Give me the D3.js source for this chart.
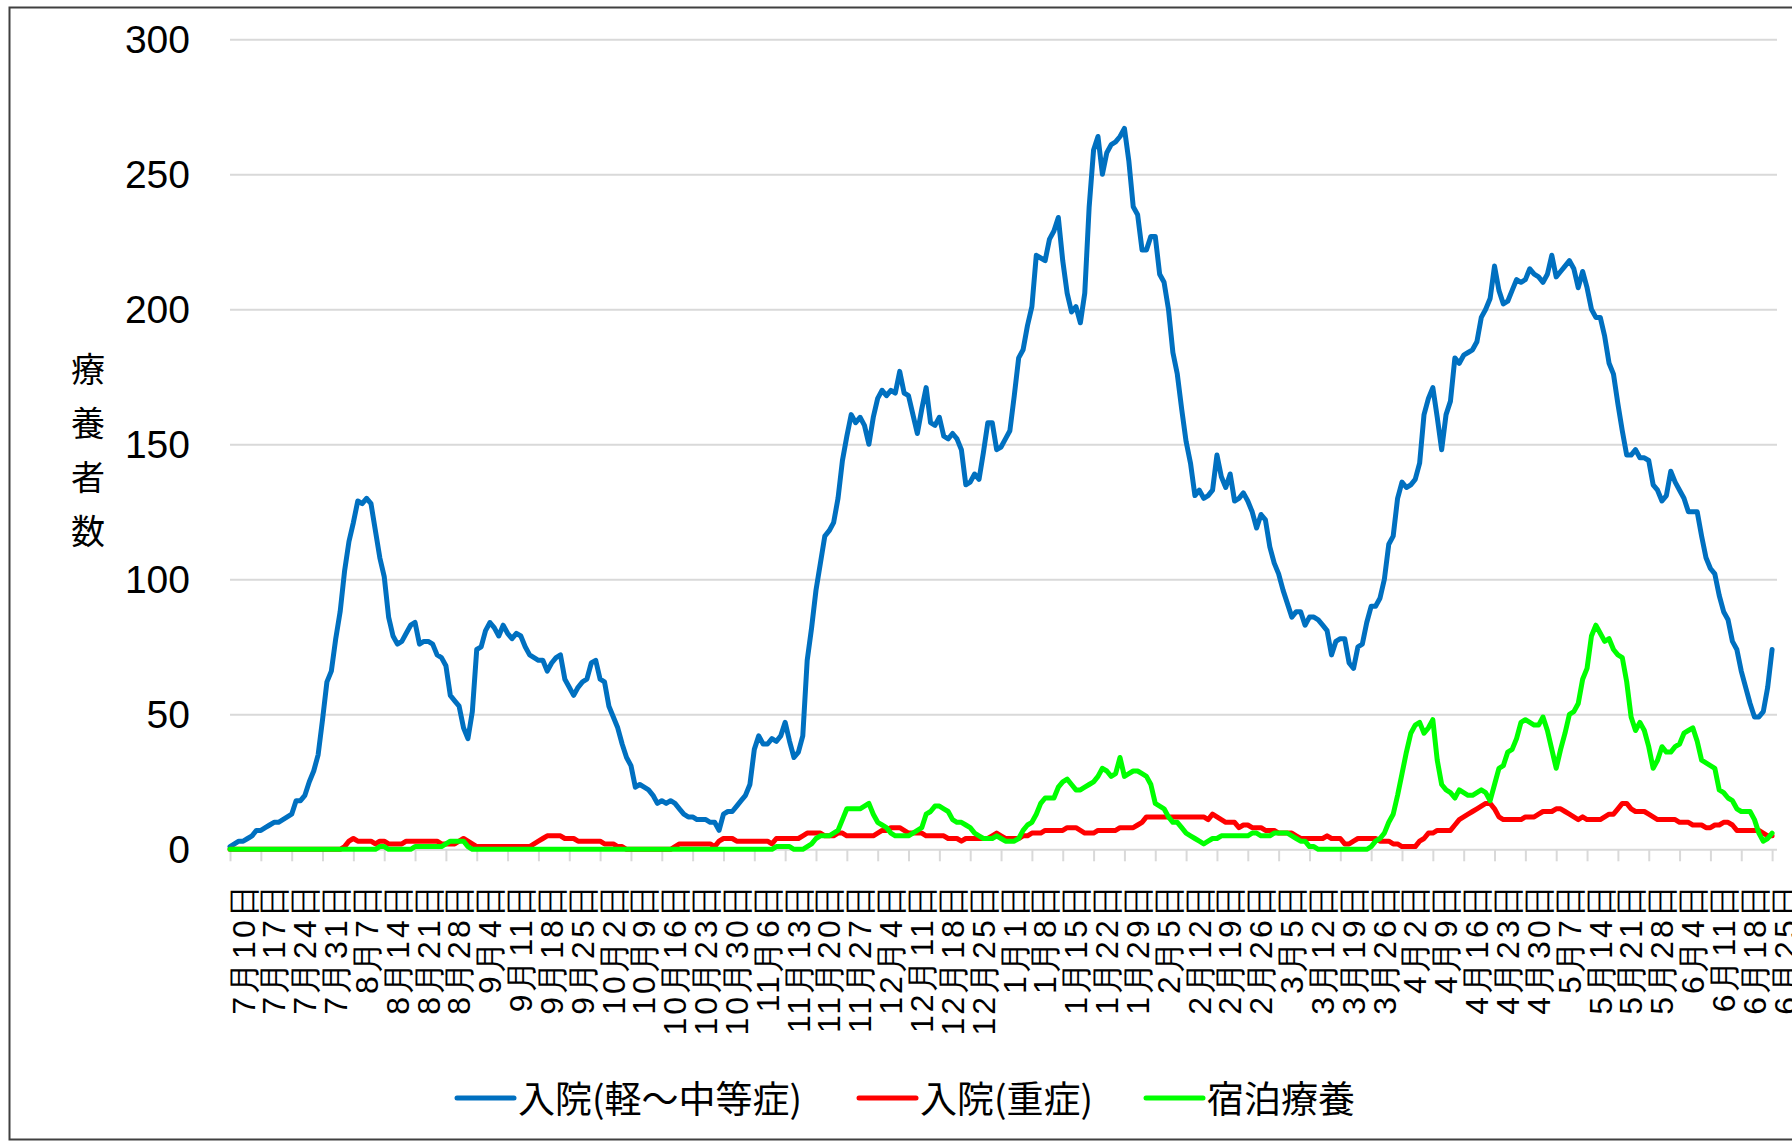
<!DOCTYPE html>
<html>
<head>
<meta charset="utf-8">
<script src="https://cdn.jsdelivr.net/npm/d3@7"></script>
<style>
  body { margin: 0; background: #fff; }
  svg { display: block; font-family: "DejaVu Sans", "Noto Sans CJK JP", sans-serif; }
</style>
</head>
<body>
<svg width="1792" height="1142"></svg>
<script>
// weekly tick labels (every 7th day starting 7/10)
var tickLabels = ["7月10日", "7月17日", "7月24日", "7月31日", "8月7日", "8月14日", "8月21日", "8月28日",
  "9月4日", "9月11日", "9月18日", "9月25日", "10月2日", "10月9日", "10月16日", "10月23日", "10月30日",
  "11月6日", "11月13日", "11月20日", "11月27日", "12月4日", "12月11日", "12月18日", "12月25日",
  "1月1日", "1月8日", "1月15日", "1月22日", "1月29日", "2月5日", "2月12日", "2月19日", "2月26日",
  "3月5日", "3月12日", "3月19日", "3月26日", "4月2日", "4月9日", "4月16日", "4月23日", "4月30日",
  "5月7日", "5月14日", "5月21日", "5月28日", "6月4日", "6月11日", "6月18日", "6月25日"];

var seriesNames = ["入院(軽～中等症)", "入院(重症)", "宿泊療養"];
var yTicks = [0, 50, 100, 150, 200, 250, 300];

// 入院(軽～中等症), one value per day
var mild = [
  1,2,3,3,4,5,7,7,8,9,
  10,10,11,12,13,18,18,20,25,29,
  35,48,62,66,78,88,103,114,121,129,
  128,130,128,118,108,101,86,79,76,77,
  80,83,84,76,77,77,76,72,71,68,
  57,55,53,45,41,51,74,75,81,84,
  82,79,83,80,78,80,79,75,72,71,
  70,70,66,69,71,72,63,60,57,60,
  62,63,69,70,63,62,53,49,45,39,
  34,31,23,24,23,22,20,17,18,17,
  18,17,15,13,12,12,11,11,11,10,
  10,7,13,14,14,16,18,20,24,37,
  42,39,39,41,40,42,47,40,34,36,
  42,70,82,96,106,116,118,121,130,144,
  153,161,158,160,157,150,160,167,170,168,
  170,169,177,169,168,161,154,163,171,158,
  157,160,153,152,154,152,148,135,136,139,
  137,147,158,158,148,149,152,155,168,182,
  185,194,201,220,219,218,226,229,234,218,
  206,199,201,195,206,238,259,264,250,258,
  261,262,264,267,255,238,235,222,222,227,
  227,213,210,200,184,176,163,151,143,131,
  133,130,131,133,146,138,134,139,129,130,
  132,129,125,119,124,122,112,106,102,96,
  91,86,88,88,83,86,86,85,83,81,
  72,77,78,78,69,67,75,76,84,90,
  90,93,100,113,116,130,136,134,135,137,
  143,161,167,171,160,148,161,166,182,180,
  183,184,185,188,197,200,204,216,207,202,
  203,207,211,210,211,215,213,212,210,213,
  220,212,214,216,218,215,208,214,208,200,
  197,197,190,180,176,165,155,146,146,148,
  145,145,144,135,133,129,131,140,136,133,
  130,125,125,125,116,108,104,102,94,88,
  85,77,74,66,60,54,49,49,51,60,74
];

// 入院(重症)
var severe = [
  0,0,0,0,0,0,0,0,0,0,
  0,0,0,0,0,0,0,0,0,0,
  0,0,0,0,0,0,1,3,4,3,
  3,3,3,2,3,3,2,2,2,2,
  3,3,3,3,3,3,3,3,2,2,
  2,2,3,4,3,2,1,1,1,1,
  1,1,1,1,1,1,1,1,1,2,
  3,4,5,5,5,5,4,4,4,3,
  3,3,3,3,3,2,2,2,1,1,
  0,0,0,0,0,0,0,0,0,0,
  0,1,2,2,2,2,2,2,2,2,
  1,3,4,4,4,3,3,3,3,3,
  3,3,3,2,4,4,4,4,4,4,
  5,6,6,6,6,5,5,5,6,6,
  5,5,5,5,5,5,5,6,7,7,
  8,8,8,7,6,6,6,6,5,5,
  5,5,5,4,4,4,3,4,4,4,
  4,4,4,5,6,5,4,4,4,4,
  5,5,6,6,6,7,7,7,7,7,
  8,8,8,7,6,6,6,7,7,7,
  7,7,8,8,8,8,9,10,12,12,
  12,12,12,12,12,12,12,12,12,12,
  12,12,11,13,12,11,10,10,10,8,
  9,9,8,8,8,7,7,7,6,6,
  6,6,5,4,4,4,4,4,4,5,
  4,4,4,2,2,3,4,4,4,4,
  4,3,3,3,2,2,1,1,1,1,
  3,4,6,6,7,7,7,7,9,11,
  12,13,14,15,16,17,17,15,12,11,
  11,11,11,11,12,12,12,13,14,14,
  14,15,15,14,13,12,11,12,11,11,
  11,11,12,13,13,15,17,17,15,14,
  14,14,13,12,11,11,11,11,11,10,
  10,10,9,9,9,8,8,9,9,10,
  10,9,7,7,7,7,7,7,6,5,5
];

// 宿泊療養
var hotel = [
  0,0,0,0,0,0,0,0,0,0,
  0,0,0,0,0,0,0,0,0,0,
  0,0,0,0,0,0,0,0,0,0,
  0,0,0,0,1,1,0,0,0,0,
  0,0,1,1,1,1,1,1,1,2,
  3,3,3,3,1,0,0,0,0,0,
  0,0,0,0,0,0,0,0,0,0,
  0,0,0,0,0,0,0,0,0,0,
  0,0,0,0,0,0,0,0,0,0,
  0,0,0,0,0,0,0,0,0,0,
  0,0,0,0,0,0,0,0,0,0,
  0,0,0,0,0,0,0,0,0,0,
  0,0,0,0,1,1,1,1,0,0,
  0,1,2,4,5,5,5,6,7,11,
  15,15,15,15,16,17,13,10,9,8,
  6,5,5,5,5,6,7,8,13,14,
  16,16,15,14,11,10,10,9,8,6,
  5,4,4,4,5,4,3,3,3,4,
  7,9,10,13,17,19,19,19,23,25,
  26,24,22,22,23,24,25,27,30,29,
  27,28,34,27,28,29,29,28,27,24,
  17,16,15,12,10,10,8,6,5,4,
  3,2,3,4,4,5,5,5,5,5,
  5,5,6,6,5,5,5,6,6,6,
  6,5,4,3,3,1,1,0,0,0,
  0,0,0,0,0,0,0,0,0,1,
  3,4,6,10,13,20,28,36,43,46,
  47,43,45,48,33,24,22,21,19,22,
  21,20,20,21,22,21,18,24,30,31,
  36,37,41,47,48,47,46,46,49,44,
  37,30,37,43,50,51,54,63,67,79,
  83,80,77,78,74,72,71,62,49,44,
  47,44,38,30,33,38,36,36,38,39,
  43,44,45,40,33,32,31,30,22,21,
  19,18,15,14,14,14,11,6,3,4,6
];

var colors = ["#0070C0", "#FF0000", "#00FF00"];

var svg = d3.select("svg");

// chart frame
svg.append("rect")
    .attr("x", 9.5).attr("y", 7.5)
    .attr("width", 1800).attr("height", 1132)
    .attr("fill", "#fff")
    .attr("stroke", "#404040")
    .attr("stroke-width", 2);

var left = 230, right = 1777;

var x = d3.scaleLinear()
    .domain([0, mild.length - 1])
    .range([left, left + 4.406 * (mild.length - 1)]);

var y = d3.scaleLinear()
    .domain([0, 300])
    .range([849.3, 39.3]);

// y axis with gridlines
var yAxis = svg.append("g")
    .attr("transform", "translate(" + left + ",0)")
    .call(d3.axisLeft(y).tickValues(yTicks).tickSize(-(right - left)).tickPadding(40));

yAxis.select(".domain").remove();
yAxis.selectAll("line").attr("stroke", "#d9d9d9").attr("stroke-width", 2);
yAxis.selectAll("text")
    .attr("fill", "#000")
    .style("font-size", "39px")
    .attr("dy", "0.35em");

// x axis: weekly ticks, rotated labels
var xAxis = svg.append("g")
    .attr("transform", "translate(0," + y(0) + ")")
    .call(d3.axisBottom(x)
        .tickValues(d3.range(0, mild.length, 7))
        .tickSize(12)
        .tickSizeOuter(0)
        .tickFormat(function(d) { return tickLabels[d / 7]; }));

xAxis.select(".domain").remove();
xAxis.selectAll("line").attr("stroke", "#d9d9d9").attr("stroke-width", 2);
xAxis.selectAll("text")
    .attr("x", null).attr("y", null).attr("dy", null)
    .attr("fill", "#000")
    .attr("text-anchor", "end")
    .attr("transform", "translate(24,33) rotate(-90)")
    .style("font-size", "32px")
    .style("letter-spacing", "3px");

// y axis title, stacked characters
svg.append("text")
    .attr("text-anchor", "middle")
    .style("font-family", "'Noto Sans CJK JP'")
    .style("font-size", "34px")
    .selectAll("tspan")
    .data("療養者数".split(""))
    .enter()
    .append("tspan")
    .attr("x", 88)
    .attr("y", function(d, i) { return 382 + i * 54; })
    .text(function(d) { return d; });

// series lines
var line = d3.line()
    .x(function(d, i) { return x(i); })
    .y(function(d) { return y(d); });

[mild, severe, hotel].forEach(function(s, i) {
    svg.append("path")
        .datum(s)
        .attr("fill", "none")
        .attr("stroke", colors[i])
        .attr("stroke-width", 5)
        .attr("stroke-linejoin", "round")
        .attr("stroke-linecap", "round")
        .attr("d", line);
});

// legend
var legendX = [457, 859, 1146];
var legend = svg.append("g");
var item = legend.selectAll("g")
    .data(seriesNames)
    .enter()
    .append("g")
    .attr("transform", function(d, i) { return "translate(" + legendX[i] + ",1098)"; });

item.append("line")
    .attr("x1", 0).attr("x2", 57)
    .attr("stroke", function(d, i) { return colors[i]; })
    .attr("stroke-width", 5)
    .attr("stroke-linecap", "round");

item.append("text")
    .attr("x", 61)
    .attr("y", 15)
    .style("font-family", "'Noto Sans CJK JP'")
    .style("font-size", "37px")
    .text(function(d) { return d; });
</script>
</body>
</html>
